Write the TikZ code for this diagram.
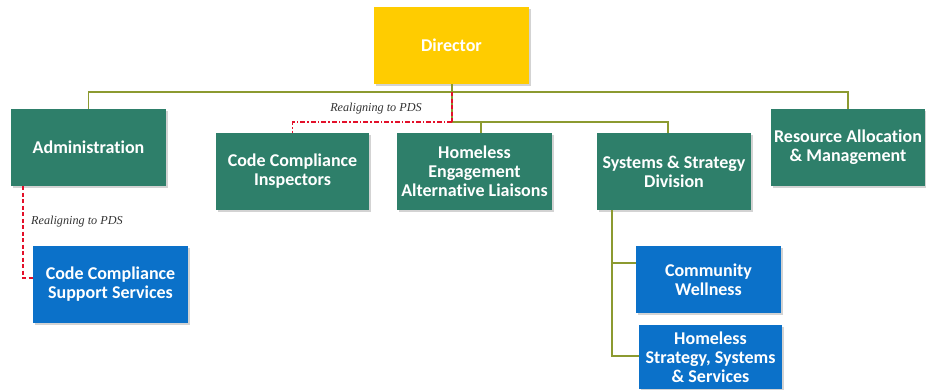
\documentclass[tikz,border=0pt]{standalone}
\usepackage{fontspec}
\setmainfont{Carlito}[Ligatures={NoCommon}]
\newfontfamily\lblfont{Liberation Serif}
\usetikzlibrary{shadows}
\definecolor{boxgreen}{HTML}{2E7F6A}
\definecolor{boxblue}{HTML}{0B71C9}
\definecolor{diryellow}{HTML}{FFCC00}
\definecolor{olive}{HTML}{8C9A30}
\definecolor{pdsred}{HTML}{E3102A}
\tikzset{
  orgbox/.style={rectangle, draw=none, text=white, align=center,
    font=\fontsize{18}{19}\selectfont\bfseries, inner sep=1pt,
    drop shadow={shadow xshift=1.5pt, shadow yshift=-1.5pt, opacity=0.35}},
  greenbox/.style={orgbox, fill=boxgreen},
  bluebox/.style={orgbox, fill=boxblue},
  dirbox/.style={orgbox, fill=diryellow},
  link/.style={draw=olive, line width=1.3pt},
  pdsdash/.style={draw=pdsred, line width=1.2pt, dash pattern=on 4pt off 2.5pt},
  pdsdashdot/.style={draw=pdsred, line width=1.2pt, dash pattern=on 5pt off 2pt on 1.5pt off 2pt},
  pdslabel/.style={font=\lblfont\itshape\fontsize{12.2}{14}\selectfont, text=black!80, inner sep=0pt}
}
\begin{document}
\begin{tikzpicture}[x=1pt,y=-1pt]
\useasboundingbox (0,0) rectangle (926,389);
% boxes
\node[dirbox, minimum width=155pt, minimum height=77pt] (dir) at (451.5,45.5) {Director};
\node[greenbox, minimum width=155pt, minimum height=77pt] (adm) at (88.5,147.5) {Administration};
\node[greenbox, minimum width=153pt, minimum height=77pt] (cci) at (292.5,171.5) {Code Compliance\\Inspectors};
\node[greenbox, minimum width=155pt, minimum height=77pt] (he) at (474.5,171.5) {Homeless\\Engagement\\Alternative Liaisons};
\node[greenbox, minimum width=154pt, minimum height=77pt] (ssd) at (674,171.5) {Systems \& Strategy\\Division};
\node[greenbox, minimum width=154pt, minimum height=77pt] (ram) at (848,147.5) {Resource Allocation\\\& Management};
\node[bluebox, minimum width=155pt, minimum height=77pt] (ccss) at (110.5,284.5) {Code Compliance\\Support Services};
\node[bluebox, minimum width=145pt, minimum height=67pt] (cw) at (708.5,279.5) {Community\\Wellness};
\node[bluebox, minimum width=143pt, minimum height=64pt] (hss) at (710.5,357) {Homeless\\Strategy, Systems\\\& Services};
% coordinates
\coordinate (top) at (452,92);
\coordinate (mid) at (452,122);
% top level connectors
\draw[link] (dir.south -| top) -- (top);
\draw[link] (adm.north) -- (adm.north |- top) -- (ram.north |- top) -- (ram.north);
\draw[link] (top) -- (mid) -- (668,122) -- (ssd.north -| 668,0);
\draw[link] (481,122) -- (he.north -| 481,0);
% realigning dashed lines
\draw[pdsdash] (top) -- (mid);
\draw[pdsdashdot] (mid) -- (cci.north |- mid) -- (cci.north);
\node[pdslabel] (lbl1) at (376,109) {Realigning to PDS};
\draw[pdsdash] (adm.south -| 23,0) -- (23,278) -- (ccss.west |- 0,278);
\node[pdslabel, anchor=west] (lbl2) at (31,222) {Realigning to PDS};
% systems sub-branches
\draw[link] (ssd.south -| 612,0) -- (612,356) -- (hss.west |- 0,356);
\draw[link] (612,263) -- (cw.west |- 0,263);
\end{tikzpicture}
\end{document}
